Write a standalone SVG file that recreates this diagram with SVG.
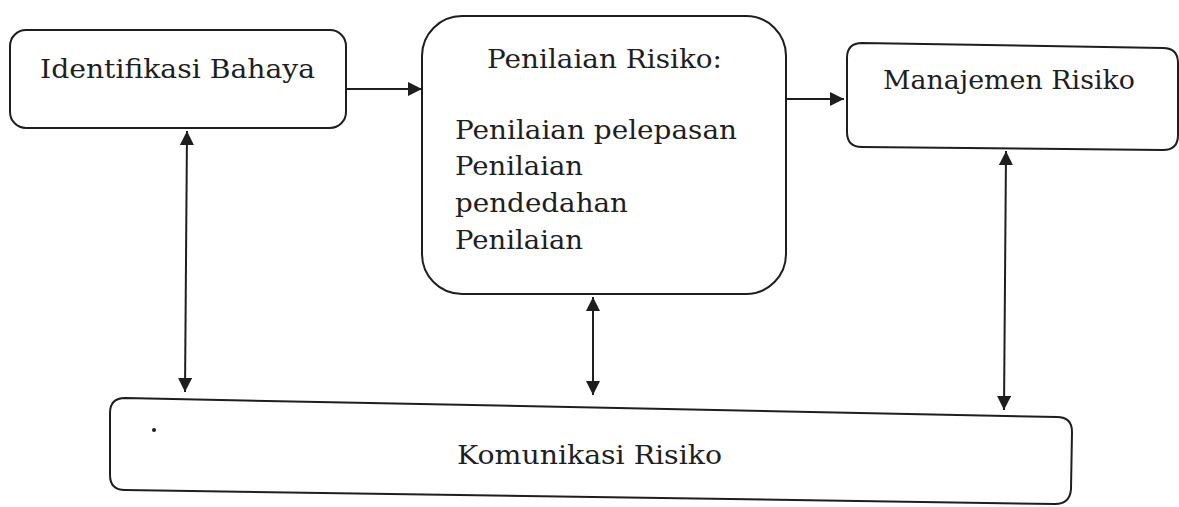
<svg xmlns="http://www.w3.org/2000/svg" width="1179" height="507" viewBox="0 0 1179 507">
<style>
.box{fill:none;stroke:#1e1e1e;stroke-width:2}
.lbl{font-family:"DejaVu Serif","Liberation Serif",serif;font-size:26px;fill:#1e1e1e}
.con{stroke:#1e1e1e;stroke-width:2;fill:none}
</style>
<defs>
<marker id="ah" viewBox="0 0 10 10" refX="10" refY="5" markerWidth="15" markerHeight="14" markerUnits="userSpaceOnUse" orient="auto-start-reverse">
<path d="M0,0 L10,5 L0,10 Z" fill="#1e1e1e"/>
</marker>
</defs>
<rect width="1179" height="507" fill="#ffffff"/>
<g id="identifikasi">
<rect class="box" x="10" y="30" width="336" height="98" rx="16"/>
<text class="lbl" x="40" y="78" textLength="275" lengthAdjust="spacingAndGlyphs">Identifikasi Bahaya</text>
</g>
<g id="penilaian">
<rect class="box" x="422" y="16" width="364" height="278" rx="40"/>
<text class="lbl" x="487" y="68" textLength="235" lengthAdjust="spacingAndGlyphs">Penilaian Risiko:</text>
<text class="lbl" x="455" y="139" textLength="282" lengthAdjust="spacingAndGlyphs">Penilaian pelepasan</text>
<text class="lbl" x="455" y="175" textLength="128" lengthAdjust="spacingAndGlyphs">Penilaian</text>
<text class="lbl" x="455" y="212" textLength="173" lengthAdjust="spacingAndGlyphs">pendedahan</text>
<text class="lbl" x="455" y="249" textLength="128" lengthAdjust="spacingAndGlyphs">Penilaian</text>
</g>
<g id="manajemen">
<path class="box" d="M862,43 L1163,48 Q1178,48 1178,63 L1178,135 Q1178,150 1163,150 L862,147 Q847,147 847,132 L847,58 Q847,43 862,43 Z"/>
<text class="lbl" x="883" y="89" textLength="252" lengthAdjust="spacingAndGlyphs">Manajemen Risiko</text>
</g>
<g id="komunikasi">
<path class="box" d="M125,398 L1057,417 Q1072,417 1072,432 L1071,489 Q1070,504 1055,504 L125,490 Q110,490 110,475 L110,413 Q110,398 125,398 Z"/>
<circle cx="154" cy="430" r="2" fill="#1e1e1e"/>
<text class="lbl" x="457" y="464" textLength="265" lengthAdjust="spacingAndGlyphs">Komunikasi Risiko</text>
</g>
<g id="connectors">
<line class="con" x1="346" y1="89" x2="422" y2="89" marker-end="url(#ah)"/>
<line class="con" x1="786" y1="99" x2="844" y2="99" marker-end="url(#ah)"/>
<line class="con" x1="187" y1="131" x2="185" y2="392" marker-start="url(#ah)" marker-end="url(#ah)"/>
<line class="con" x1="593" y1="297" x2="593" y2="395" marker-start="url(#ah)" marker-end="url(#ah)"/>
<line class="con" x1="1006" y1="151" x2="1004" y2="410" marker-start="url(#ah)" marker-end="url(#ah)"/>
</g>
</svg>
